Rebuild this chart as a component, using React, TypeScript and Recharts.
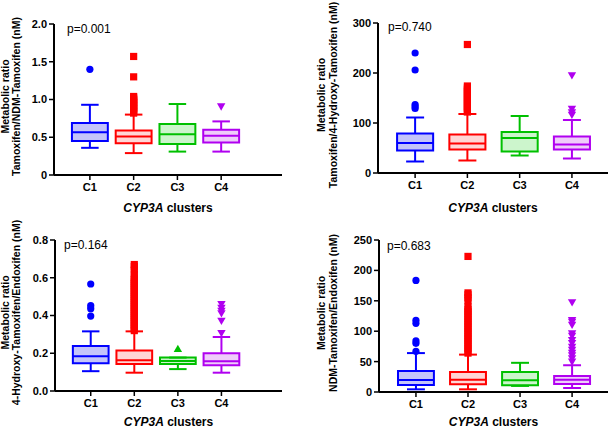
import React from "react";
import { ComposedChart, XAxis, YAxis, Scatter, ReferenceArea, ReferenceLine } from "recharts";

const clusters = ["C1", "C2", "C3", "C4"];
const strokeColors = ["#0000FF", "#FF0000", "#00C000", "#B000F0"];
const fillColors = ["#C4C4FA", "#FFD6D6", "#CCF5CC", "#EFCCFA"];

// Panel 1: Tamoxifen / NDM-Tamoxifen
const p1Low = [0.36, 0.29, 0.31, 0.31];
const p1Q1 = [0.45, 0.42, 0.41, 0.43];
const p1Med = [0.565, 0.51, 0.54, 0.52];
const p1Q3 = [0.69, 0.59, 0.675, 0.6];
const p1High = [0.93, 0.8, 0.94, 0.71];
const p1Out = [
  [1.4],
  [0.82, 0.84, 0.86, 0.88, 0.9, 0.92, 0.94, 0.96, 0.98, 1.0, 1.02, 1.04, 1.3, 1.57],
  [],
  [0.905],
];
const p1Ticks = [0, 0.5, 1.0, 1.5, 2.0];
const p1TickLabels = ["0", "0.5", "1.0", "1.5", "2.0"];

// Panel 2: Tamoxifen / 4-Hydroxy-Tamoxifen
const p2Low = [23, 25, 35, 29];
const p2Q1 = [45, 47, 43, 47];
const p2Med = [60, 59, 70, 57];
const p2Q3 = [79, 77, 82, 73];
const p2High = [111, 118, 114, 106];
const p2Out = [
  [129, 133, 137, 206, 240],
  [122, 126, 130, 134, 138, 142, 146, 150, 154, 158, 162, 166, 170, 174, 257],
  [],
  [116, 121, 128, 195],
];
const p2Ticks = [0, 100, 200, 300];
const p2TickLabels = ["0", "100", "200", "300"];

// Panel 3: 4-Hydroxy-Tamoxifen / Endoxifen
const p3Low = [0.105, 0.097, 0.116, 0.097];
const p3Q1 = [0.147, 0.143, 0.143, 0.136];
const p3Med = [0.184, 0.163, 0.159, 0.157];
const p3Q3 = [0.238, 0.215, 0.177, 0.2];
const p3High = [0.316, 0.316, 0.177, 0.286];
const p3Out = [
  [0.397, 0.436, 0.452, 0.567],
  [0.32, 0.33, 0.34, 0.35, 0.36, 0.37, 0.38, 0.39, 0.4, 0.41, 0.42, 0.43, 0.44, 0.45, 0.46, 0.47, 0.48, 0.49, 0.5, 0.51, 0.52, 0.53, 0.54, 0.55, 0.56, 0.57, 0.58, 0.59, 0.6, 0.62, 0.64, 0.66, 0.67],
  [0.224],
  [0.306, 0.371, 0.41, 0.424, 0.44, 0.459],
];
const p3Ticks = [0, 0.2, 0.4, 0.6, 0.8];
const p3TickLabels = ["0.0", "0.2", "0.4", "0.6", "0.8"];

// Panel 4: NDM-Tamoxifen / Endoxifen
const p4Low = [4.4, 4.4, 10, 6.6];
const p4Q1 = [11.5, 12.6, 11, 13.2];
const p4Med = [19.8, 20.3, 19.2, 20.3];
const p4Q3 = [34.6, 33, 33, 26.4];
const p4High = [64, 61.5, 48, 44];
const p4Out = [
  [67, 80, 84, 113, 118, 183.5],
  [64, 68, 72, 76, 80, 84, 88, 92, 96, 100, 104, 108, 112, 116, 120, 124, 128, 132, 136, 140, 150, 155, 160, 163, 223],
  [],
  [49.5, 55, 60, 64, 69, 74, 80, 85, 92, 96, 110, 115, 118, 147],
];
const p4Ticks = [0, 50, 100, 150, 200, 250];
const p4TickLabels = ["0", "50", "100", "150", "200", "250"];

const FONT = "'Liberation Sans', Arial, Helvetica, sans-serif";

type PanelCfg = {
  left: number; top: number; width: number; height: number;
  axisX: number; plotTop: number; plotBottom: number; plotRight: number;
  yAxisWidth: number; xDomain: [number, number]; boxHalf: number; capHalf: number;
  low: number[]; q1: number[]; med: number[]; q3: number[]; high: number[]; out: number[][];
  yTicks: number[]; yTickLabels: string[];
  title2: string; pText: string; pdx: number; pdy: number; t1: number; t2: number; xt: number;
};

const panels: PanelCfg[] = [
  {
    left: 0, top: 0, width: 300, height: 215, axisX: 54, plotTop: 24, plotBottom: 175, plotRight: 282,
    yAxisWidth: 34, xDomain: [0.18, 5.39], boxHalf: 0.41, capHalf: 0.2,
    low: p1Low, q1: p1Q1, med: p1Med, q3: p1Q3, high: p1High, out: p1Out,
    yTicks: p1Ticks, yTickLabels: p1TickLabels,
    title2: "Tamoxifen/NDM-Tamoxifen (nM)", pText: "p=0.001", pdx: 13, pdy: 9, t1: -45, t2: -34, xt: 37,
  },
  {
    left: 300, top: 0, width: 308, height: 215, axisX: 78, plotTop: 23, plotBottom: 173, plotRight: 308,
    yAxisWidth: 40, xDomain: [0.29, 4.69], boxHalf: 0.345, capHalf: 0.172,
    low: p2Low, q1: p2Q1, med: p2Med, q3: p2Q3, high: p2High, out: p2Out,
    yTicks: p2Ticks, yTickLabels: p2TickLabels,
    title2: "Tamoxifen/4-Hydroxy-Tamoxifen (nM)", pText: "p=0.740", pdx: 10, pdy: 8, t1: -53, t2: -41, xt: 39,
  },
  {
    left: 0, top: 215, width: 300, height: 216, axisX: 55, plotTop: 25, plotBottom: 176, plotRight: 282,
    yAxisWidth: 34, xDomain: [0.18, 5.39], boxHalf: 0.41, capHalf: 0.2,
    low: p3Low, q1: p3Q1, med: p3Med, q3: p3Q3, high: p3High, out: p3Out,
    yTicks: p3Ticks, yTickLabels: p3TickLabels,
    title2: "4-Hydroxy-Tamoxifen/Endoxifen (nM)", pText: "p=0.164", pdx: 9, pdy: 9, t1: -46, t2: -35, xt: 35,
  },
  {
    left: 300, top: 215, width: 308, height: 216, axisX: 79, plotTop: 25, plotBottom: 177, plotRight: 308,
    yAxisWidth: 40, xDomain: [0.29, 4.69], boxHalf: 0.345, capHalf: 0.172,
    low: p4Low, q1: p4Q1, med: p4Med, q3: p4Q3, high: p4High, out: p4Out,
    yTicks: p4Ticks, yTickLabels: p4TickLabels,
    title2: "NDM-Tamoxifen/Endoxifen (nM)", pText: "p=0.683", pdx: 8, pdy: 10, t1: -54, t2: -42, xt: 34,
  },
];

function Marker(props: any, idx: number) {
  const { cx, cy } = props;
  if (cx == null || cy == null) return <g />;
  const c = strokeColors[idx];
  if (idx === 0) return <circle cx={cx} cy={cy} r={3.6} fill={c} />;
  if (idx === 1) return <rect x={cx - 3.6} y={cy - 3.6} width={7.2} height={7.2} fill={c} />;
  if (idx === 2)
    return <path d={`M${cx},${cy - 4} L${cx + 4.2},${cy + 3.3} L${cx - 4.2},${cy + 3.3} Z`} fill={c} />;
  return <path d={`M${cx},${cy + 4} L${cx + 4.2},${cy - 3.3} L${cx - 4.2},${cy - 3.3} Z`} fill={c} />;
}

const XTICKS = [1, 2, 3, 4];

function BoxPanel({ p }: { p: PanelCfg }) {
  const xAxisHeight = 30;
  const margin = {
    top: p.plotTop,
    right: p.width - p.plotRight,
    bottom: p.height - p.plotBottom - xAxisHeight,
    left: p.axisX - p.yAxisWidth,
  };
  const cy = (p.plotTop + p.plotBottom) / 2 - 3;
  const cx = (p.axisX + p.plotRight) / 2;
  const tickStyle = { fill: "#000", fontSize: 11, fontWeight: "bold", fontFamily: FONT } as any;
  return (
    <div style={{ position: "absolute", left: p.left, top: p.top, width: p.width, height: p.height }}>
      <ComposedChart width={p.width} height={p.height} margin={margin}>
        <XAxis
          type="number"
          dataKey="x"
          domain={p.xDomain}
          ticks={XTICKS}
          interval={0}
          allowDataOverflow
          tickFormatter={(v: number) => clusters[v - 1]}
          axisLine={{ stroke: "#000", strokeWidth: 2 }}
          tickLine={{ stroke: "#000", strokeWidth: 1.5 }}
          tickSize={5}
          tickMargin={3}
          tick={tickStyle}
          height={xAxisHeight}
        />
        <YAxis
          type="number"
          dataKey="y"
          domain={[0, p.yTicks[p.yTicks.length - 1]]}
          ticks={p.yTicks}
          interval={0}
          allowDataOverflow
          tickFormatter={(v: number) => p.yTickLabels[p.yTicks.indexOf(v)]}
          axisLine={{ stroke: "#000", strokeWidth: 2 }}
          tickLine={{ stroke: "#000", strokeWidth: 1.5 }}
          tickSize={5}
          tickMargin={2}
          tick={tickStyle}
          width={p.yAxisWidth}
        />
        {clusters.map((c, i) => (
          <ReferenceLine
            key={`wh-${c}`}
            segment={[{ x: i + 1, y: p.q3[i] }, { x: i + 1, y: p.high[i] }]}
            stroke={strokeColors[i]}
            strokeWidth={2}
            ifOverflow="visible"
          />
        ))}
        {clusters.map((c, i) => (
          <ReferenceLine
            key={`wl-${c}`}
            segment={[{ x: i + 1, y: p.low[i] }, { x: i + 1, y: p.q1[i] }]}
            stroke={strokeColors[i]}
            strokeWidth={2}
            ifOverflow="visible"
          />
        ))}
        {clusters.map((c, i) => (
          <ReferenceLine
            key={`ch-${c}`}
            segment={[{ x: i + 1 - p.capHalf, y: p.high[i] }, { x: i + 1 + p.capHalf, y: p.high[i] }]}
            stroke={strokeColors[i]}
            strokeWidth={2}
            ifOverflow="visible"
          />
        ))}
        {clusters.map((c, i) => (
          <ReferenceLine
            key={`cl-${c}`}
            segment={[{ x: i + 1 - p.capHalf, y: p.low[i] }, { x: i + 1 + p.capHalf, y: p.low[i] }]}
            stroke={strokeColors[i]}
            strokeWidth={2}
            ifOverflow="visible"
          />
        ))}
        {clusters.map((c, i) => (
          <ReferenceArea
            key={`box-${c}`}
            x1={i + 1 - p.boxHalf}
            x2={i + 1 + p.boxHalf}
            y1={p.q1[i]}
            y2={p.q3[i]}
            fill={fillColors[i]}
            fillOpacity={1}
            stroke={strokeColors[i]}
            strokeWidth={2}
            ifOverflow="visible"
          />
        ))}
        {clusters.map((c, i) => (
          <ReferenceLine
            key={`med-${c}`}
            segment={[{ x: i + 1 - p.boxHalf, y: p.med[i] }, { x: i + 1 + p.boxHalf, y: p.med[i] }]}
            stroke={strokeColors[i]}
            strokeWidth={2}
            ifOverflow="visible"
          />
        ))}
        {clusters.map((c, i) =>
          p.out[i].length ? (
            <Scatter
              key={`out-${c}`}
              data={p.out[i].map((v) => ({ x: i + 1, y: v }))}
              dataKey="y"
              isAnimationActive={false}
              shape={(props: any) => Marker(props, i)}
            />
          ) : null
        )}
      </ComposedChart>
      <svg
        width={p.width}
        height={p.height}
        style={{ position: "absolute", left: 0, top: 0, overflow: "visible", pointerEvents: "none" }}
      >
        <text x={p.axisX + p.pdx} y={p.plotTop + p.pdy} fontSize={12} fontFamily={FONT} fill="#000">
          {p.pText}
        </text>
        <text
          transform={`translate(${p.axisX + p.t1},${cy}) rotate(-90)`}
          textAnchor="middle"
          fontSize={10.5}
          fontWeight="bold"
          fontFamily={FONT}
          fill="#000"
        >
          Metabolic ratio
        </text>
        <text
          transform={`translate(${p.axisX + p.t2},${cy}) rotate(-90)`}
          textAnchor="middle"
          fontSize={10.5}
          fontWeight="bold"
          fontFamily={FONT}
          fill="#000"
        >
          {p.title2}
        </text>
        <text x={cx} y={p.plotBottom + p.xt} textAnchor="middle" fontSize={12} fontWeight="bold" fontFamily={FONT} fill="#000">
          <tspan fontStyle="italic">CYP3A</tspan> clusters
        </text>
      </svg>
    </div>
  );
}

export default function App() {
  return (
    <div style={{ position: "absolute", left: 0, top: 0, width: 608, height: 431, background: "#fff" }}>
      {panels.map((p, k) => (
        <BoxPanel key={k} p={p} />
      ))}
    </div>
  );
}
